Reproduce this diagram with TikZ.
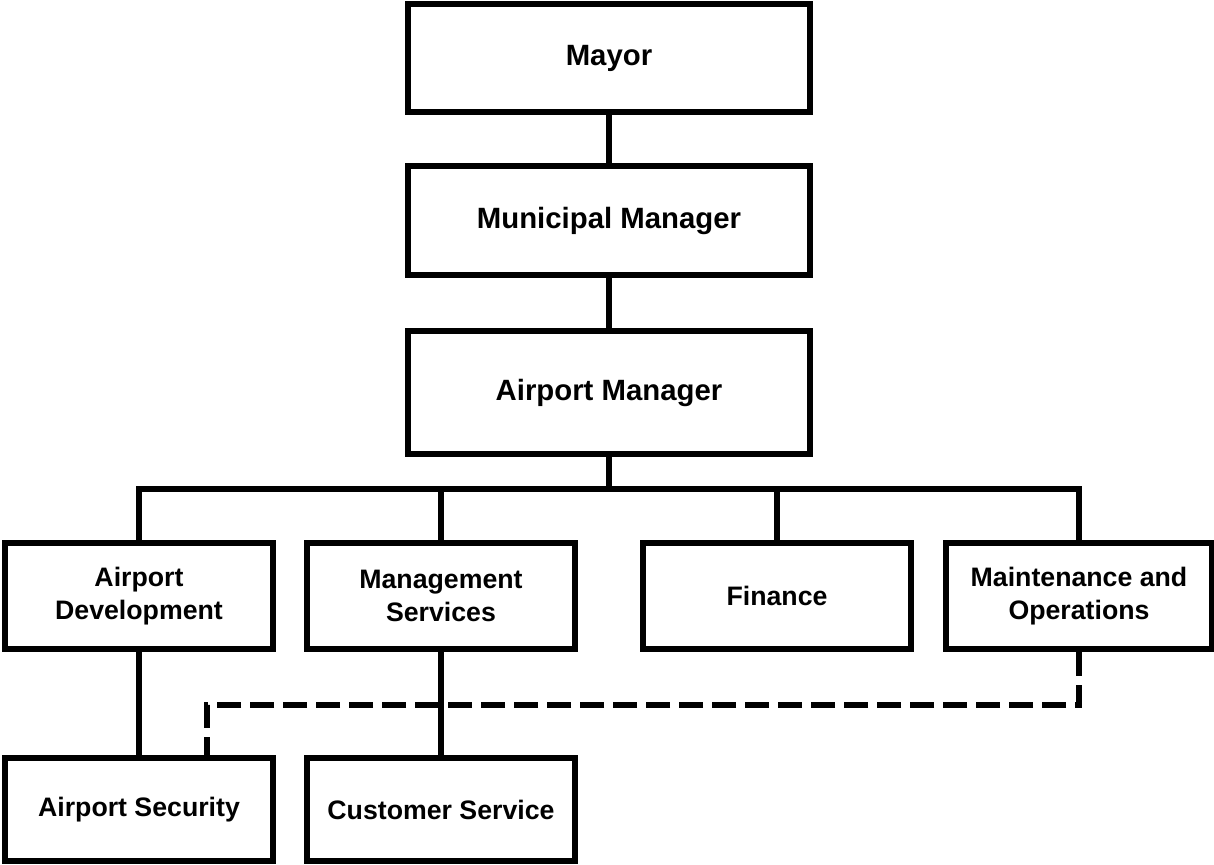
\documentclass[tikz,border=0pt]{standalone}
\usepackage{fontspec}
\setmainfont{Liberation Sans}
\usepackage{tikz}

\begin{document}
\begin{tikzpicture}[
    x=0.02cm, y=-0.02cm,
    box/.style={draw, line width=0.12cm, align=center, inner sep=0pt,
                font=\bfseries\fontsize{16.7}{19.5}\selectfont},
    smallbox/.style={box, minimum width=5.38cm,
                font=\bfseries\fontsize{15.2}{18.5}\selectfont},
    link/.style={line width=0.12cm},
    dashlink/.style={line width=0.12cm, dash pattern=on 0.48cm off 0.18cm}
]
\useasboundingbox (0,0) rectangle (1214,865);

% top of the chain
\node[box, minimum width=8.05cm, minimum height=2.15cm] (mayor) at (609,58) {Mayor};
\node[box, minimum width=8.05cm, minimum height=2.18cm] (munmgr) at (609,220.5) {Municipal Manager};
\node[box, minimum width=8.05cm, minimum height=2.46cm] (airmgr) at (609,392.5) {Airport Manager};

% divisions
\node[smallbox, minimum height=2.14cm] (airdev) at (139,596) {Airport\\Development};
\node[smallbox, minimum height=2.14cm] (mgmtsvc) at (441,596) {Management\\Services};
\node[smallbox, minimum height=2.14cm] (finance) at (777,596) {Finance};
\node[smallbox, minimum height=2.14cm, minimum width=5.32cm] (maintops) at (1079,596) {Maintenance and\\Operations};

% sections
\node[smallbox, minimum height=2.06cm] (airsec) at (139,809.5) {Airport Security};
\node[smallbox, minimum height=2.06cm] (custsvc) at (441,809.5) {Customer Service};

\coordinate (bus) at (609,488.5);

\draw[link] (mayor) -- (munmgr);
\draw[link] (munmgr) -- (airmgr);
\draw[link] (airmgr.south) -- (bus);
\draw[link] (airdev.north) |- (maintops.north |- bus) -- (maintops.north);
\draw[link] (mgmtsvc.north) -- (mgmtsvc.north |- bus);
\draw[link] (finance.north) -- (finance.north |- bus);
\draw[link] (airdev) -- (airsec);
\draw[link] (mgmtsvc) -- (custsvc);
\draw[dashlink] (maintops.south) -- ++(0,53) -| ([xshift=1.36cm]airsec.north);
\end{tikzpicture}
\end{document}
